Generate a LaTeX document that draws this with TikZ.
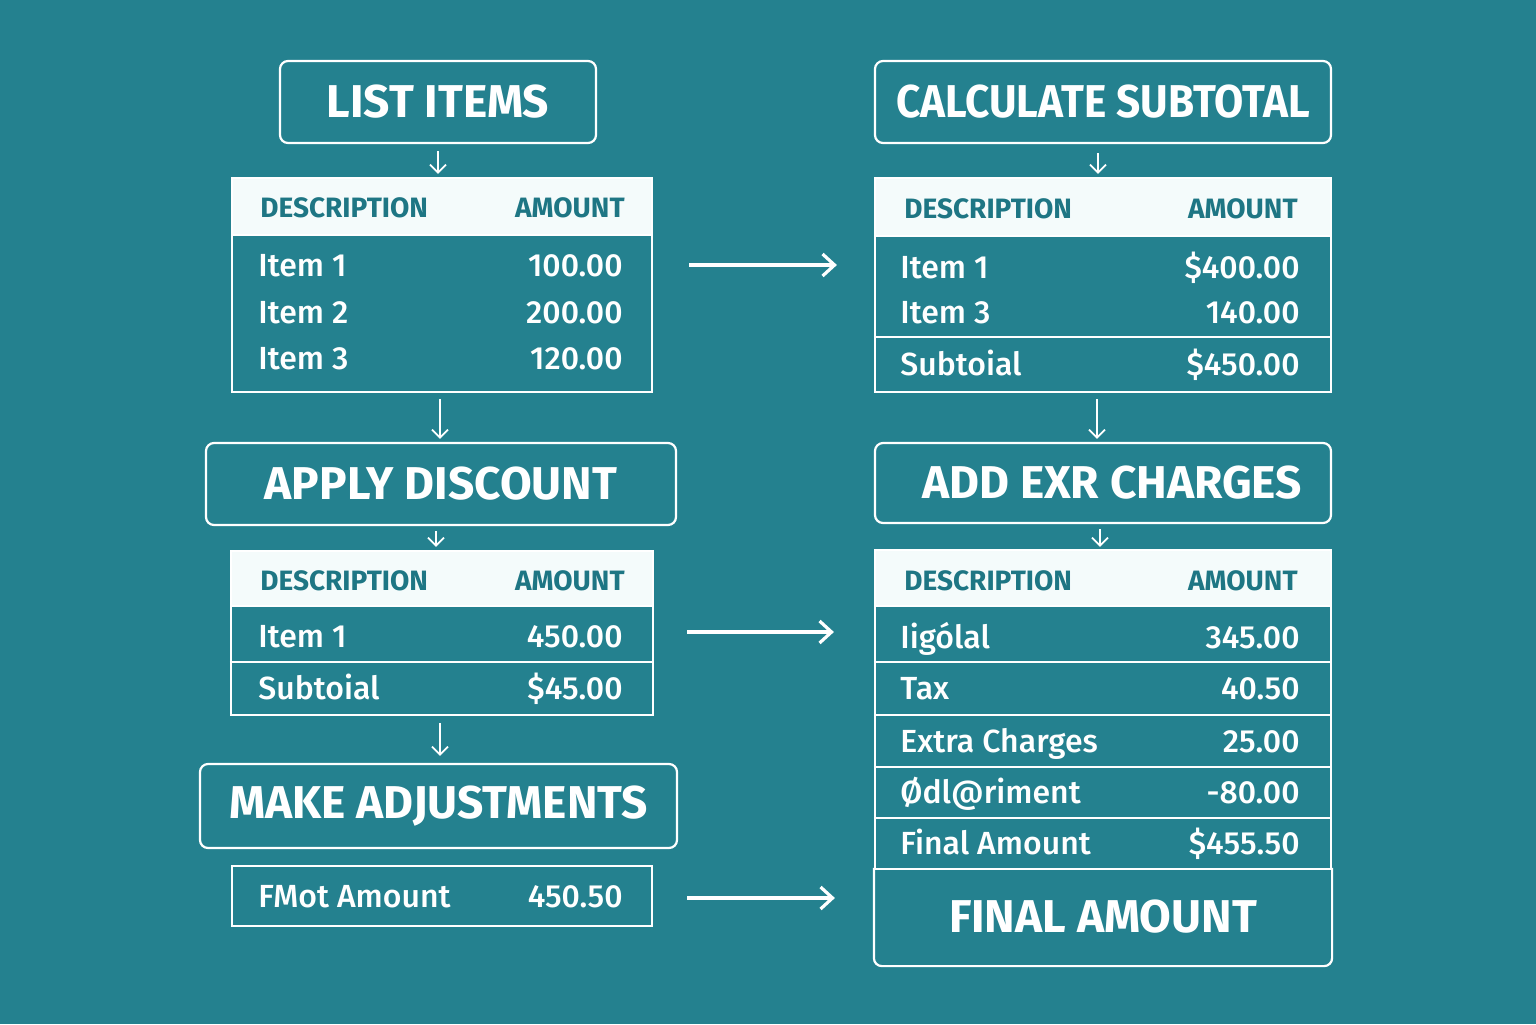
\documentclass[tikz,border=0pt]{standalone}
\usepackage{xcolor}
\usepackage{fontspec}
\setmainfont{Fira Sans}
\newfontfamily\medfont{Fira Sans Medium}
\usepackage{tikz}
\usetikzlibrary{arrows.meta,positioning,calc}

\definecolor{bgteal}{RGB}{36,129,143}
\definecolor{headfill}{RGB}{244,251,251}
\definecolor{headtext}{RGB}{30,118,132}

\begin{document}
\begin{tikzpicture}[
    x=0.5pt, y=-0.5pt,
    title/.style={rectangle, draw=white, line width=1.1pt, rounded corners=4pt, text=white, font=\bfseries\fontsize{23}{27}\selectfont},
    table/.style={rectangle, draw=white, line width=1.1pt},
    header/.style={rectangle, draw=white, line width=1.1pt, fill=headfill},
    headtxt/.style={inner sep=0pt, text=headtext, font=\bfseries\fontsize{14}{17}\selectfont, text height=9.7pt, text depth=0pt},
    cell/.style={inner sep=0pt, text=white, font=\medfont\fontsize{16}{19}\selectfont, text height=11pt, text depth=0pt},
    rowline/.style={draw=white, line width=1.1pt},
    small/.style={-{Straight Barb[length=4pt,width=8pt]}, draw=white, line width=0.9pt},
    arrow/.style={-{Straight Barb[length=6pt,width=11pt]}, draw=white, line width=1.6pt}
]

% background
\fill[bgteal] (0,0) rectangle (1536,1024);
\useasboundingbox (0,0) rectangle (1536,1024);

% Left column
\node[title, minimum width=158pt, minimum height=41pt] (list) at (438,102) {LIST ITEMS};

\node[table, minimum width=210pt, minimum height=107pt] (items) at (442,285) {};
\node[header, minimum width=210pt, minimum height=28.5pt, anchor=north] (itemshead) at (items.north) {};
\node[headtxt, anchor=west] (itemsdesc) at (260,208) {DESCRIPTION};
\node[headtxt, anchor=east] (itemsamt) at (625,208) {AMOUNT};
\node[cell, anchor=west] (itemsr1) at (258,265) {Item 1};
\node[cell, anchor=east] (itemsv1) at (623,265) {100.00};
\node[cell, anchor=west] (itemsr2) at (258,312) {Item 2};
\node[cell, anchor=east] (itemsv2) at (623,312) {200.00};
\node[cell, anchor=west] (itemsr3) at (258,358) {Item 3};
\node[cell, anchor=east] (itemsv3) at (623,358) {120.00};

\node[title, minimum width=235pt, minimum height=41pt] (discount) at (441,484) {APPLY DISCOUNT};

\node[table, minimum width=211pt, minimum height=82pt] (disc) at (442,633) {};
\node[header, minimum width=211pt, minimum height=27.5pt, anchor=north] (dischead) at (disc.north) {};
\node[headtxt, anchor=west] (discdesc) at (260,581) {DESCRIPTION};
\node[headtxt, anchor=east] (discamt) at (625,581) {AMOUNT};
\node[cell, anchor=west] (discr1) at (258,636) {Item 1};
\node[cell, anchor=east] (discv1) at (623,636) {450.00};
\node[cell, anchor=west] (discr2) at (258,688) {Subtoial};
\node[cell, anchor=east] (discv2) at (623,688) {\$45.00};
\draw[rowline] (disc.west |- 0,662) -- (disc.east |- 0,662);

\node[title, minimum width=238.5pt, minimum height=42pt] (adjust) at (438.5,806) {MAKE ADJUSTMENTS};

\node[table, minimum width=210pt, minimum height=30pt] (fmot) at (442,896) {};
\node[cell, anchor=west] (fmotr) at (258,896) {FMot Amount};
\node[cell, anchor=east] (fmotv) at (623,896) {450.50};

% Right column
\node[title, minimum width=228pt, minimum height=41pt] (calc) at (1103,102) {\scalebox{0.92}[1]{CALCULATE SUBTOTAL}};

\node[table, minimum width=228pt, minimum height=107pt] (sub) at (1103,285) {};
\node[header, minimum width=228pt, minimum height=29pt, anchor=north] (subhead) at (sub.north) {};
\node[headtxt, anchor=west] (subdesc) at (904,209) {DESCRIPTION};
\node[headtxt, anchor=east] (subamt) at (1298,209) {AMOUNT};
\node[cell, anchor=west] (subr1) at (900,267) {Item 1};
\node[cell, anchor=east] (subv1) at (1300,267) {\$400.00};
\node[cell, anchor=west] (subr2) at (900,312) {Item 3};
\node[cell, anchor=east] (subv2) at (1300,312) {140.00};
\node[cell, anchor=west] (subr3) at (900,364) {Subtoial};
\node[cell, anchor=east] (subv3) at (1300,364) {\$450.00};
\draw[rowline] (sub.west |- 0,337) -- (sub.east |- 0,337);

\node[title, minimum width=228pt, minimum height=40pt] (extra) at (1103,483) {\hspace{9pt}ADD EXR CHARGES};

\node[table, minimum width=228pt, minimum height=159.5pt] (charges) at (1103,709.5) {};
\node[header, minimum width=228pt, minimum height=28pt, anchor=north] (chargeshead) at (charges.north) {};
\node[headtxt, anchor=west] (chargesdesc) at (904,581) {DESCRIPTION};
\node[headtxt, anchor=east] (chargesamt) at (1298,581) {AMOUNT};
\node[cell, anchor=west] (chargesr1) at (900,637) {Iigólal};
\node[cell, anchor=east] (chargesv1) at (1300,637) {345.00};
\node[cell, anchor=west] (chargesr2) at (900,688) {Tax};
\node[cell, anchor=east] (chargesv2) at (1300,688) {40.50};
\node[cell, anchor=west] (chargesr3) at (900,741) {Extra Charges};
\node[cell, anchor=east] (chargesv3) at (1300,741) {25.00};
\node[cell, anchor=west] (chargesr4) at (900,792) {Ødl@riment};
\node[cell, anchor=east] (chargesv4) at (1300,792) {-80.00};
\node[cell, anchor=west] (chargesr5) at (900,843) {Final Amount};
\node[cell, anchor=east] (chargesv5) at (1300,843) {\$455.50};
\foreach \y in {662,715,767,818}
    \draw[rowline] (charges.west |- 0,\y) -- (charges.east |- 0,\y);

\node[title, draw=none, minimum width=228pt, minimum height=48pt] (final) at (1103,917) {FINAL AMOUNT};
\draw[rowline, rounded corners=4pt] (final.north west) -- (final.south west) -- (final.south east) -- (final.north east);

% Arrows
\draw[small, shorten <=3.5pt, shorten >=1.5pt] (list.south) -- (list.south |- items.north);
\draw[small, shorten <=4.5pt, shorten >=1.5pt] (calc.south -| 1098,0) -- (sub.north -| 1098,0);
\draw[small, shorten <=2.5pt, shorten >=1.5pt] (discount.south -| 436,0) -- (disc.north -| 436,0);
\draw[small, shorten <=2.5pt, shorten >=1pt] (extra.south -| 1100,0) -- (charges.north -| 1100,0);
\draw[small, shorten <=3pt, shorten >=1.5pt] (items.south -| 440,0) -- (discount.north -| 440,0);
\draw[small, shorten <=3pt, shorten >=1.5pt] (sub.south -| 1097,0) -- (extra.north -| 1097,0);
\draw[small, shorten <=3.5pt, shorten >=3.5pt] (disc.south -| 440,0) -- (adjust.north -| 440,0);
\draw[arrow, shorten <=18pt, shorten >=18.5pt] (items.east |- itemsr1) -- (sub.west |- itemsr1);
\draw[arrow, shorten <=16.5pt, shorten >=20pt] (disc.east |- 0,632) -- (charges.west |- 0,632);
\draw[arrow, shorten <=17pt, shorten >=19.5pt] (fmot.east |- 0,898) -- (charges.west |- 0,898);

\end{tikzpicture}
\end{document}
